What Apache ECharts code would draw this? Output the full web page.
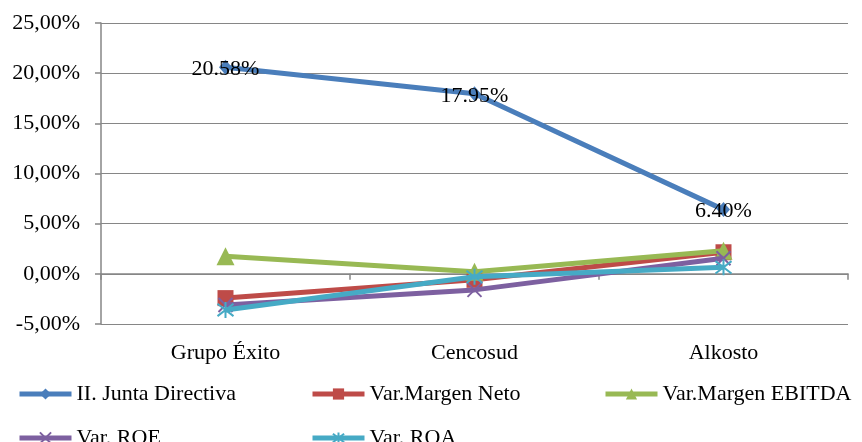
<!DOCTYPE html>
<html>
<head>
<meta charset="utf-8">
<script src="https://cdn.jsdelivr.net/npm/echarts@6/dist/echarts.min.js"></script>
<style>html,body{margin:0;padding:0;background:#fff}#c{width:862px;height:442px}</style>
</head>
<body>
<div id="c"></div>
<script>
var categories = ['Grupo Éxito', 'Cencosud', 'Alkosto'];
var seriesNames = ['II. Junta Directiva', 'Var.Margen Neto', 'Var.Margen EBITDA', 'Var. ROE', 'Var. ROA'];
var juntaDirectiva = [20.58, 17.95, 6.40];
var margenNeto = [-2.42, -0.6, 2.15];
var margenEbitda = [1.75, 0.2, 2.3];
var roe = [-3.1, -1.6, 1.55];
var roa = [-3.6, -0.3, 0.65];
var yTicks = { min: -5, max: 25, interval: 5 };

var colors = ['#4A7EBB', '#BE4B48', '#98B954', '#7D60A0', '#46AAC5'];
var symbols = ['diamond', 'rect', 'triangle',
  'path://M0,0L10,10M10,0L0,10',
  'path://M0,0L10,10M10,0L0,10M5,-1.5L5,11.5'];
var symbolSizes = [[13, 15], 16, 18, 14, 16];
var values = [juntaDirectiva, margenNeto, margenEbitda, roe, roa];
var FONT = '"Liberation Serif", "Times New Roman", serif';

var series = seriesNames.map(function (n, i) {
  var s = {
    name: n, type: 'line', data: values[i],
    symbol: symbols[i], symbolSize: symbolSizes[i],
    lineStyle: { color: colors[i], width: 5 },
    itemStyle: { color: colors[i], borderColor: colors[i], borderWidth: (i >= 3 ? 2 : 0) },
    z: 10 + i
  };
  if (i === 0) {
    s.label = { show: true, position: 'inside', color: '#000', fontFamily: FONT, fontSize: 22,
      offset: [0, 2],
      formatter: function (p) { return p.value.toFixed(2) + '%'; } };
    s.z = 20;
  }
  return s;
});

var legendPos = [[17, 383], [310, 383], [603, 383], [17, 427], [310, 427]];
var legends = seriesNames.map(function (n, i) {
  return {
    data: [n], left: legendPos[i][0], top: legendPos[i][1], padding: 0,
    itemWidth: 52, itemHeight: 14, itemGap: 0, itemTextGap: 2,
    lineStyle: { width: 5 },
    textStyle: { fontFamily: FONT, fontSize: 22, color: '#000' }
  };
});

var chart = echarts.init(document.getElementById('c'), null, { renderer: 'canvas' });
chart.setOption({
  animation: false,
  color: colors,
  grid: { left: 101, right: 14, top: 23, bottom: 118, containLabel: false },
  legend: legends,
  xAxis: [{
    type: 'category', data: categories, position: 'bottom', boundaryGap: true,
    axisLine: { show: false, onZero: false }, axisTick: { show: false },
    axisLabel: { margin: 18, color: '#000', fontFamily: FONT, fontSize: 22 }
  }, {
    type: 'category', data: categories, position: 'top', boundaryGap: true,
    axisLine: { show: true, onZero: true, lineStyle: { color: '#868686', width: 1.5 } },
    axisTick: { show: true, inside: true, length: 6, lineStyle: { color: '#868686', width: 1.5 } },
    axisLabel: { show: false }, splitLine: { show: false }
  }],
  yAxis: {
    type: 'value', min: yTicks.min, max: yTicks.max, interval: yTicks.interval,
    axisLine: { show: true, lineStyle: { color: '#868686', width: 1.5 } },
    axisTick: { show: true, length: 6, lineStyle: { color: '#868686', width: 1.5 } },
    splitLine: { show: true, lineStyle: { color: '#868686', width: 1.2 } },
    axisLabel: { margin: 21, color: '#000', fontFamily: FONT, fontSize: 22,
      formatter: function (v) { return v.toFixed(2).replace('.', ',') + '%'; } }
  },
  series: series
});
</script>
</body>
</html>
